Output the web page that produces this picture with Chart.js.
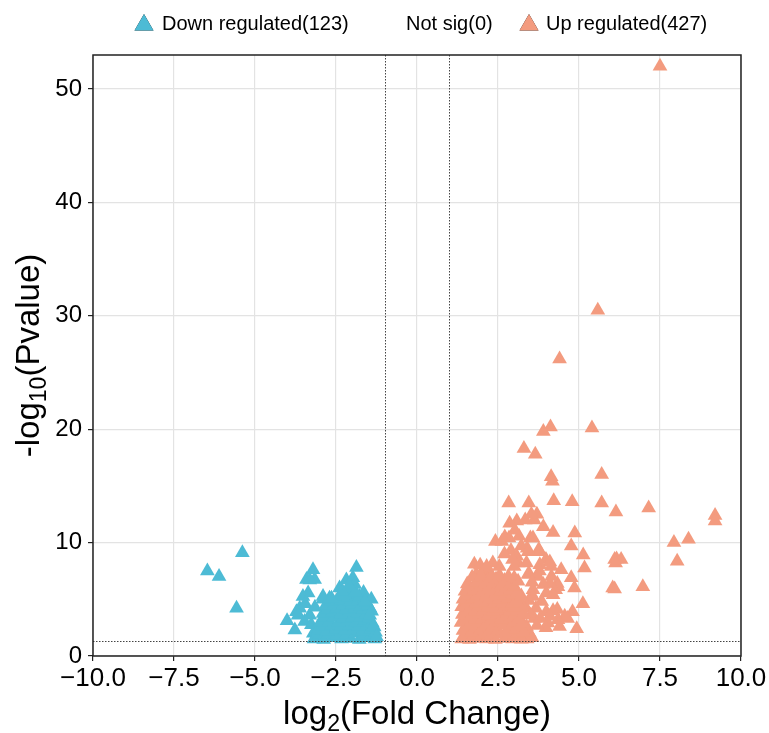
<!DOCTYPE html>
<html>
<head>
<meta charset="utf-8">
<title>Volcano plot</title>
<script src="https://cdn.jsdelivr.net/npm/chart.js@4.4.1/dist/chart.umd.min.js"></script>
<style>
  html, body { margin: 0; padding: 0; background: #fff; }
  #wrap { width: 769px; height: 733px; }
</style>
</head>
<body>
<div id="wrap"><canvas id="volcano" width="769" height="733"></canvas></div>
<script>
// [log2FC, -log10(p)]
const downRegulated = [
    [-6.47, 7.5], [-6.11, 7.0], [-5.39, 9.1], [-5.57, 4.2],
    [-3.21, 7.6], [-3.41, 6.75], [-3.16, 6.75], [-3.31, 6.7], [-3.36, 5.55], [-3.52, 5.25],
    [-3.62, 4.2], [-3.72, 3.9], [-4.01, 3.1], [-3.77, 2.3], [-3.67, 3.6], [-3.31, 3.6],
    [-3.47, 3.05], [-3.26, 2.76], [-3.45, 4.6], [-3.15, 4.3], [-3.2, 2.0], [-3.18, 1.5],
    [-3.15, 1.55], [-2.88, 1.45], [-2.6, 1.6], [-2.33, 1.5], [-2.05, 1.55], [-1.78, 1.45], [-1.52, 1.6], [-1.3, 1.5],
    [-3.0, 1.9], [-2.74, 1.95], [-2.46, 1.85], [-2.18, 1.9], [-1.9, 2.0], [-1.64, 1.85], [-1.4, 1.95],
    [-3.05, 2.3], [-2.78, 2.2], [-2.5, 2.35], [-2.22, 2.25], [-1.95, 2.4], [-1.68, 2.2], [-1.42, 2.35], [-1.28, 2.1],
    [-2.92, 2.65], [-2.64, 2.7], [-2.36, 2.6], [-2.08, 2.7], [-1.8, 2.65], [-1.54, 2.75], [-1.32, 2.55],
    [-2.98, 3.0], [-2.7, 3.1], [-2.42, 2.95], [-2.15, 3.1], [-1.88, 3.0], [-1.6, 3.15], [-1.38, 2.9],
    [-2.84, 3.4], [-2.56, 3.45], [-2.28, 3.35], [-2.0, 3.45], [-1.74, 3.4], [-1.48, 3.3],
    [-2.9, 3.75], [-2.62, 3.85], [-2.35, 3.7], [-2.08, 3.9], [-1.82, 3.8], [-1.56, 3.7], [-1.4, 3.95],
    [-2.76, 4.15], [-2.48, 4.2], [-2.2, 4.1], [-1.92, 4.2], [-1.66, 4.1], [-1.46, 4.25],
    [-2.82, 4.45], [-2.55, 4.6], [-2.28, 4.5], [-2.0, 4.55], [-1.74, 4.4], [-1.52, 4.5],
    [-2.66, 4.85], [-2.36, 4.9], [-2.06, 4.85], [-1.8, 4.95], [-1.56, 4.75],
    [-2.9, 5.0], [-2.7, 5.1], [-2.4, 5.25], [-2.12, 5.2], [-1.86, 5.3], [-1.62, 5.1],
    [-2.9, 5.25], [-2.64, 5.1], [-2.39, 6.0], [-2.23, 5.4], [-2.18, 6.7], [-1.98, 6.4],
    [-1.98, 6.9], [-1.92, 6.3], [-1.87, 7.8], [-1.77, 5.25], [-2.05, 5.9], [-1.65, 5.6],
    [-2.3, 5.7], [-1.9, 5.65], [-2.1, 6.2],
    [-1.41, 5.0], [-1.36, 2.6], [-1.25, 1.7], [-1.46, 3.6], [-1.61, 4.8]
];

const upRegulated = [
    [7.50, 52.0], [5.58, 30.5], [4.40, 26.2], [4.12, 20.2], [3.90, 19.8], [5.40, 20.1],
    [3.30, 18.3], [3.65, 17.8], [4.14, 15.8], [4.18, 15.4], [5.70, 16.0],
    [2.83, 13.5], [3.45, 13.5], [4.22, 13.7], [4.79, 13.6], [5.70, 13.5], [6.14, 12.7],
    [7.15, 13.05], [9.20, 12.4], [9.20, 11.9],
    [3.70, 12.5], [3.62, 12.0], [2.86, 11.7], [3.08, 11.9], [3.34, 12.0], [3.53, 12.5],
    [3.90, 11.4], [4.20, 10.9], [4.87, 10.85],
    [2.42, 10.1], [2.62, 10.1], [2.84, 10.4], [3.15, 10.55], [3.50, 10.4], [2.71, 10.5],
    [3.02, 11.1], [3.58, 10.4],
    [4.76, 9.7], [3.40, 9.5], [3.76, 9.4], [3.22, 9.7], [3.43, 9.2], [3.79, 9.2], [2.90, 9.3], [2.70, 9.0],
    [5.13, 8.9], [6.10, 8.5], [6.16, 8.55], [6.30, 8.5], [6.13, 8.2], [7.93, 10.0], [8.38, 10.3],
    [8.03, 8.35], [5.17, 7.75],
    [3.08, 8.8], [3.12, 8.2], [3.00, 7.9], [3.98, 8.5], [4.14, 7.9], [4.45, 7.6], [4.10, 8.3],
    [3.79, 8.05], [3.38, 8.2], [2.95, 8.5],
    [2.54, 7.9], [2.34, 8.2], [1.83, 7.2], [2.03, 7.5], [2.24, 7.4], [1.77, 8.1], [1.95, 8.0], [2.15, 7.9],
    [3.47, 7.2], [3.78, 7.5], [3.73, 7.0], [3.43, 7.2], [4.15, 7.0], [4.76, 6.9], [4.86, 6.0],
    [4.33, 6.4], [4.28, 5.85], [4.35, 6.1], [4.10, 6.4], [3.90, 6.3], [3.58, 5.85], [3.99, 5.55],
    [4.20, 5.4], [3.58, 5.25],
    [6.04, 6.0], [6.10, 5.9], [6.97, 6.1],
    [5.12, 4.6], [4.80, 3.9], [4.65, 3.3], [4.93, 2.4], [4.56, 3.5], [4.33, 4.1], [4.20, 4.0],
    [4.35, 3.2], [4.40, 2.6], [3.98, 2.5], [3.99, 3.9], [4.04, 2.9], [3.67, 4.2], [3.62, 3.3],
    [3.47, 2.0], [3.38, 2.6], [3.15, 2.6], [3.15, 1.7], [3.37, 4.2], [3.40, 1.5], [3.55, 1.6],
    [3.85, 4.8], [3.45, 4.9], [3.70, 2.7], [4.10, 3.5], [3.50, 3.6], [3.80, 3.3], [3.55, 6.5],
    [1.38, 1.5], [1.62, 1.45], [1.90, 1.55], [2.15, 1.5], [2.42, 1.45], [2.70, 1.55], [2.95, 1.5], [3.22, 1.48],
    [1.50, 1.9], [1.76, 1.85], [2.04, 1.95], [2.30, 1.85], [2.56, 1.95], [2.84, 1.9], [3.10, 2.0],
    [1.42, 2.25], [1.68, 2.1], [1.95, 2.3], [2.22, 2.15], [2.50, 2.3], [2.78, 2.2], [3.05, 2.35], [3.30, 2.1],
    [1.52, 2.6], [1.80, 2.55], [2.06, 2.65], [2.32, 2.55], [2.60, 2.7], [2.86, 2.6], [3.12, 2.65],
    [1.36, 2.95], [1.63, 2.85], [1.88, 3.0], [2.16, 2.9], [2.44, 3.05], [2.70, 2.85], [2.98, 3.0], [3.25, 2.9],
    [1.50, 3.3], [1.78, 3.25], [2.04, 3.35], [2.32, 3.3], [2.60, 3.25], [2.88, 3.35], [3.14, 3.3],
    [1.40, 3.65], [1.67, 3.55], [1.93, 3.7], [2.20, 3.6], [2.48, 3.75], [2.75, 3.55], [3.02, 3.65], [3.28, 3.7],
    [1.52, 4.0], [1.78, 3.95], [2.06, 4.05], [2.34, 3.95], [2.60, 4.05], [2.86, 3.95], [3.12, 4.05],
    [1.38, 4.35], [1.64, 4.25], [1.90, 4.4], [2.18, 4.3], [2.45, 4.2], [2.72, 4.4], [3.00, 4.3], [3.22, 4.45],
    [1.54, 4.7], [1.82, 4.65], [2.10, 4.75], [2.38, 4.65], [2.66, 4.7], [2.94, 4.65], [3.18, 4.8],
    [1.42, 5.0], [1.70, 5.1], [1.96, 4.95], [2.24, 5.05], [2.52, 5.0], [2.80, 5.1], [3.06, 4.9],
    [1.58, 5.35], [1.86, 5.4], [2.14, 5.3], [2.42, 5.4], [2.70, 5.35], [2.96, 5.45], [3.22, 5.3],
    [1.48, 5.7], [1.75, 5.8], [2.02, 5.65], [2.30, 5.75], [2.58, 5.7], [2.86, 5.8], [3.10, 5.6],
    [1.64, 6.05], [1.92, 6.1], [2.20, 6.0], [2.48, 6.1], [2.74, 6.0], [3.00, 6.15],
    [1.55, 6.35], [1.82, 6.5], [2.10, 6.4], [2.36, 6.45], [2.62, 6.3], [2.90, 6.4], [3.12, 6.6],
    [1.90, 6.75], [2.18, 6.7], [2.44, 6.8], [2.70, 6.65], [3.00, 6.9],
    [1.70, 6.95], [1.98, 7.05], [2.28, 6.9], [2.55, 7.1], [2.82, 7.0]
];

const notSig = [];

const legendLabels = ['Down regulated(123)', 'Not sig(0)', 'Up regulated(427)'];
const seriesColors = ['#4DBBD5', '#999999', '#F39B7F'];

const fcCutoffs = [-1, 1];
const pCutoff = 1.3;

const xRange = [-10, 10];
const yRange = [0, 53];

const FONT = '"Liberation Sans", Arial, Helvetica, sans-serif';
Chart.defaults.font.family = FONT;
Chart.defaults.color = '#000';

function toXY(list) {
    return list.map(p => ({ x: p[0], y: p[1] }));
}

// draw text made of pieces, some of them subscripts
function drawRich(ctx, parts, x, y, size) {
    let widths = parts.map(p => {
        ctx.font = (p.sub ? size * 0.7 : size) + 'px ' + FONT;
        return ctx.measureText(p.t).width;
    });
    let total = widths.reduce((a, b) => a + b, 0);
    let cx = x - total / 2;
    ctx.textAlign = 'left';
    ctx.textBaseline = 'alphabetic';
    parts.forEach((p, i) => {
        ctx.font = (p.sub ? size * 0.7 : size) + 'px ' + FONT;
        ctx.fillText(p.t, cx, p.sub ? y + size * 0.22 : y);
        cx += widths[i];
    });
}

const decorations = {
    id: 'decorations',
    afterDatasetsDraw(chart) {
        const { ctx, chartArea, scales } = chart;
        ctx.save();
        // threshold lines
        ctx.strokeStyle = '#444';
        ctx.lineWidth = 1;
        ctx.setLineDash([1.5, 1.5]);
        fcCutoffs.forEach(v => {
            let px = Math.round(scales.x.getPixelForValue(v)) + 0.5;
            ctx.beginPath();
            ctx.moveTo(px, chartArea.top);
            ctx.lineTo(px, chartArea.bottom);
            ctx.stroke();
        });
        let py = Math.round(scales.y.getPixelForValue(pCutoff)) + 0.5;
        ctx.beginPath();
        ctx.moveTo(chartArea.left, py);
        ctx.lineTo(chartArea.right, py);
        ctx.stroke();
        // panel border
        ctx.setLineDash([]);
        ctx.strokeStyle = '#222';
        ctx.lineWidth = 1.5;
        ctx.strokeRect(chartArea.left, chartArea.top, chartArea.right - chartArea.left, chartArea.bottom - chartArea.top);
        ctx.restore();
    },
    afterDraw(chart) {
        const { ctx, chartArea } = chart;
        ctx.save();
        ctx.fillStyle = '#000';
        // x title
        drawRich(ctx, [{ t: 'log' }, { t: '2', sub: true }, { t: '(Fold Change)' }],
            (chartArea.left + chartArea.right) / 2, 724, 33);
        // y title
        ctx.save();
        ctx.translate(39, (chartArea.top + chartArea.bottom) / 2);
        ctx.rotate(-Math.PI / 2);
        drawRich(ctx, [{ t: '-log' }, { t: '10', sub: true }, { t: '(Pvalue)' }], 0, 0, 33);
        ctx.restore();

        // legend
        ctx.font = '20px ' + FONT;
        ctx.textBaseline = 'middle';
        ctx.textAlign = 'left';
        const items = [
            { marker: 144, text: 162 },
            { marker: null, text: 406 },
            { marker: 529, text: 546 }
        ];
        items.forEach((it, i) => {
            if (it.marker !== null) {
                Chart.helpers.drawPoint(ctx, { pointStyle: 'triangle', radius: 11, rotation: 0, borderWidth: 0 }, it.marker, 25);
                ctx.fillStyle = seriesColors[i];
                ctx.fill();
            }
            ctx.fillStyle = '#000';
            ctx.fillText(legendLabels[i], it.text, 24);
        });
        ctx.restore();
    }
};

let ctx = document.getElementById('volcano').getContext('2d');
let volcanoChart = new Chart(ctx, {
    type: 'scatter',
    data: {
        datasets: [
            { label: legendLabels[0], data: toXY(downRegulated), backgroundColor: seriesColors[0] },
            { label: legendLabels[1], data: toXY(notSig), backgroundColor: seriesColors[1] },
            { label: legendLabels[2], data: toXY(upRegulated), backgroundColor: seriesColors[2] }
        ]
    },
    options: {
        responsive: false,
        animation: false,
        layout: { padding: { top: 55, right: 28, left: 0, bottom: 0 } },
        elements: {
            point: { pointStyle: 'triangle', radius: 8.5, borderWidth: 0, hoverRadius: 8.5 }
        },
        plugins: {
            legend: { display: false },
            tooltip: { enabled: false }
        },
        scales: {
            x: {
                type: 'linear',
                min: xRange[0],
                max: xRange[1],
                afterFit: s => { s.height = 77; },
                border: { display: false },
                grid: { color: '#E3E3E3', lineWidth: 1.2, tickLength: 5, tickColor: '#222', tickWidth: 1.2 },
                ticks: {
                    stepSize: 2.5,
                    autoSkip: false,
                    maxRotation: 0,
                    padding: 2,
                    color: '#000',
                    font: { size: 26 },
                    callback: v => (v < 0 ? '\u2212' : '') + Math.abs(v).toFixed(1)
                }
            },
            y: {
                type: 'linear',
                min: yRange[0],
                max: yRange[1],
                afterFit: s => { s.width = 93; },
                border: { display: false },
                grid: { color: '#E3E3E3', lineWidth: 1.2, tickLength: 5, tickColor: '#222', tickWidth: 1.2 },
                ticks: {
                    stepSize: 10,
                    includeBounds: false,
                    padding: 6,
                    color: '#000',
                    font: { size: 24 }
                }
            }
        }
    },
    plugins: [decorations]
});
</script>
</body>
</html>
